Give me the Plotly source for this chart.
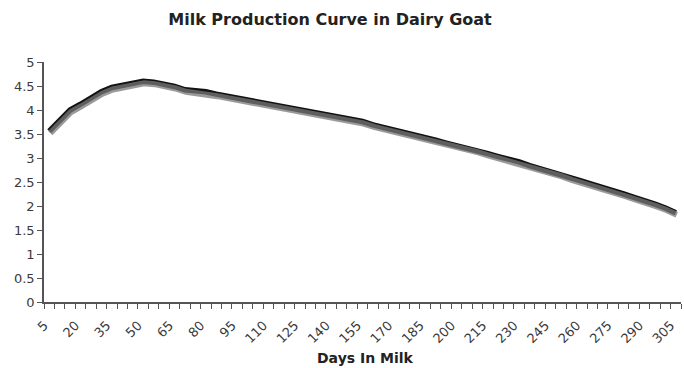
import plotly.graph_objects as go

# Daily milk yield (kg) sampled every 5 days in milk
days = list(range(5, 310, 5))
milk_yield = [
    3.56, 3.78, 4.00, 4.12, 4.26, 4.38, 4.47, 4.52, 4.55, 4.60,
    4.58, 4.54, 4.49, 4.42, 4.40, 4.38, 4.33, 4.29, 4.25, 4.21,
    4.17, 4.13, 4.09, 4.05, 4.01, 3.97, 3.93, 3.89, 3.85, 3.81,
    3.76, 3.69, 3.64, 3.59, 3.54, 3.49, 3.44, 3.37, 3.31, 3.26,
    3.21, 3.16, 3.09, 3.03, 2.98, 2.92, 2.84, 2.78, 2.72, 2.66,
    2.58, 2.52, 2.45, 2.39, 2.32, 2.25, 2.18, 2.12, 2.04, 1.96,
    1.86,
]
x_tick_days = list(range(5, 310, 15))
x_tick_labels = [str(d) for d in x_tick_days]
y_tick_vals = [i * 0.5 for i in range(11)]
y_tick_labels = ["0", "0.5", "1", "1.5", "2", "2.5", "3", "3.5", "4", "4.5", "5"]

W, H = 684, 368
L, R, T, B = 44, 3, 62, 66
plot_w = W - L - R
plot_h = H - T - B

x_range = [2.5, 307.5]
y_range = [0, 5]
# shadow offset: 1px right, 2px down
dx = (x_range[1] - x_range[0]) / plot_w * 1.0
dy = (y_range[1] - y_range[0]) / plot_h * 2.0

font_family = "DejaVu Sans, Verdana, sans-serif"
axis_color = "#555555"
text_color = "#3a3a3a"

fig = go.Figure()

# soft grey drop shadow under the curve
fig.add_trace(go.Scatter(
    x=days, y=milk_yield, mode="lines", xaxis="x2", yaxis="y2",
    line=dict(color="rgba(120,120,120,0.75)", width=6),
    hoverinfo="skip", showlegend=False,
))
fig.add_trace(go.Scatter(
    x=days, y=milk_yield, mode="lines",
    line=dict(color="#121212", width=5.5),
    showlegend=False,
))

fig.update_layout(
    width=W, height=H,
    margin=dict(l=L, r=R, t=T, b=B),
    paper_bgcolor="white", plot_bgcolor="white",
    font=dict(family=font_family, size=13, color=text_color),
    title=dict(
        text="<b>Milk Production Curve in Dairy Goat</b>",
        font=dict(family=font_family, size=16, color="#222222"),
        xref="container", x=330 / W, xanchor="center",
        yref="container", y=1 - 19 / H, yanchor="middle",
    ),
    xaxis=dict(
        range=x_range, showgrid=False, zeroline=False,
        showline=True, linecolor=axis_color, linewidth=1.5,
        tickmode="array", tickvals=x_tick_days, ticktext=x_tick_labels,
        ticks="", tickangle=-45,
        ticklabelstandoff=9, ticklabelshift=-5,
        tickfont=dict(family=font_family, size=13, color=text_color),
        minor=dict(ticks="outside", ticklen=5, tickcolor=axis_color,
                   tickwidth=1, tick0=2.5, dtick=5, showgrid=False),
    ),
    yaxis=dict(
        range=y_range, showgrid=False, zeroline=False,
        showline=True, linecolor=axis_color, linewidth=1.5,
        tickmode="array", tickvals=y_tick_vals, ticktext=y_tick_labels,
        ticks="outside", ticklen=5, tickcolor=axis_color,
        tickfont=dict(family=font_family, size=13, color=text_color),
    ),
    xaxis2=dict(overlaying="x", range=[x_range[0] - dx, x_range[1] - dx],
                visible=False),
    yaxis2=dict(overlaying="y", range=[y_range[0] + dy, y_range[1] + dy],
                visible=False),
    annotations=[dict(
        text="<b>Days In Milk</b>", showarrow=False,
        xref="paper", x=(365 - L) / plot_w, xanchor="center",
        yref="paper", y=-(358 - (T + plot_h)) / plot_h, yanchor="middle",
        font=dict(family=font_family, size=14, color="#222222"),
    )],
)

fig.write_html("out.html")
